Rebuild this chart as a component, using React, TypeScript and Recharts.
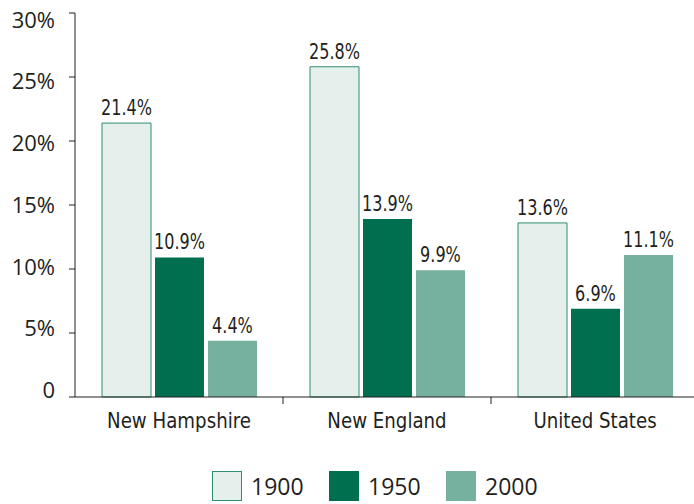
import React from "react";
import { BarChart, Bar, XAxis, YAxis, Legend, LabelList } from "recharts";

const CATEGORIES = ["New Hampshire", "New England", "United States"];
const V1900 = [21.4, 25.8, 13.6];
const V1950 = [10.9, 13.9, 6.9];
const V2000 = [4.4, 9.9, 11.1];
const Y_TICKS = [0, 5, 10, 15, 20, 25, 30];

const SERIES = [
  { key: "1900", fill: "#e5efeb", stroke: "#2f8f6f" },
  { key: "1950", fill: "#006f50", stroke: "none" },
  { key: "2000", fill: "#76b09f", stroke: "none" },
];

const data = CATEGORIES.map((name, i) => ({
  name,
  "1900": V1900[i],
  "1950": V1950[i],
  "2000": V2000[i],
}));

const CHART_W = 699;
const CHART_H = 504;
const Y_W = 75;
const BAND = (CHART_W - Y_W) / CATEGORIES.length;

// no narrow face installed, so the condensed one gets squeezed a little more
const NARROW = "'Liberation Sans Narrow', 'DejaVu Sans Condensed', sans-serif";
const SANS = "'Open Sans', 'Noto Sans', sans-serif";
const INK = "#231f20";

const YTick = ({ x, y, payload }: any) => {
  // labels sit a touch closer together than the tick marks in the original
  const yc = 205 + (y - 205) * 0.965;
  return (
    <text x={x} y={yc} dy="0.36em" textAnchor="end" fontFamily={SANS} fontSize={22} fill={INK}>
      {payload.value === 0 ? "0" : `${payload.value}%`}
    </text>
  );
};

const XTick = ({ x, y, payload }: any) => (
  <g>
    <line x1={x + BAND / 2} x2={x + BAND / 2} y1={y} y2={y + 7} stroke={INK} strokeWidth={1} />
    <text
      transform={`translate(${x} ${y + 31}) scale(0.92 1)`}
      textAnchor="middle"
      fontFamily={NARROW}
      fontSize={22}
      fill={INK}
    >
      {payload.value}
    </text>
  </g>
);

const BarLabel = ({ x, y, width, value }: any) => (
  <text
    transform={`translate(${x + width / 2} ${y - 8}) scale(0.85 1)`}
    textAnchor="middle"
    fontFamily={NARROW}
    fontSize={21}
    fill={INK}
  >
    {`${value}%`}
  </text>
);

const LegendContent = () => (
  <div style={{ display: "flex", height: 36, alignItems: "center", paddingLeft: 212 }}>
    {SERIES.map((s) => (
      <div key={s.key} style={{ display: "flex", alignItems: "center", width: 117 }}>
        <div
          style={{
            width: 30,
            height: 30,
            boxSizing: "border-box",
            background: s.fill,
            border: s.stroke === "none" ? "none" : `1.5px solid ${s.stroke}`,
            marginRight: 9,
          }}
        />
        <span style={{ fontFamily: SANS, fontSize: 23, color: INK }}>{s.key}</span>
      </div>
    ))}
  </div>
);

export default function App() {
  return (
    <div style={{ position: "absolute", left: 0, top: 0, width: 694, height: 504, overflow: "hidden", background: "#fff" }}>
      <BarChart
        width={CHART_W}
        height={CHART_H}
        data={data}
        margin={{ top: 13, right: 0, left: 0, bottom: 0 }}
        barSize={49}
        barGap={4}
      >
        <XAxis
          dataKey="name"
          height={71}
          tickSize={0}
          tickMargin={0}
          tickLine={false}
          axisLine={{ stroke: INK, strokeWidth: 1 }}
          tick={<XTick />}
          interval={0}
        />
        <YAxis
          width={Y_W}
          domain={[0, 30]}
          ticks={Y_TICKS}
          tickSize={6}
          tickMargin={14}
          tickLine={{ stroke: INK }}
          axisLine={{ stroke: INK, strokeWidth: 1 }}
          tick={<YTick />}
          interval={0}
        />
        <Legend verticalAlign="bottom" align="left" content={<LegendContent />} />
        {SERIES.map((s) => (
          <Bar
            key={s.key}
            dataKey={s.key}
            fill={s.fill}
            stroke={s.stroke}
            strokeWidth={1}
            isAnimationActive={false}
          >
            <LabelList dataKey={s.key} content={<BarLabel />} />
          </Bar>
        ))}
      </BarChart>
    </div>
  );
}
